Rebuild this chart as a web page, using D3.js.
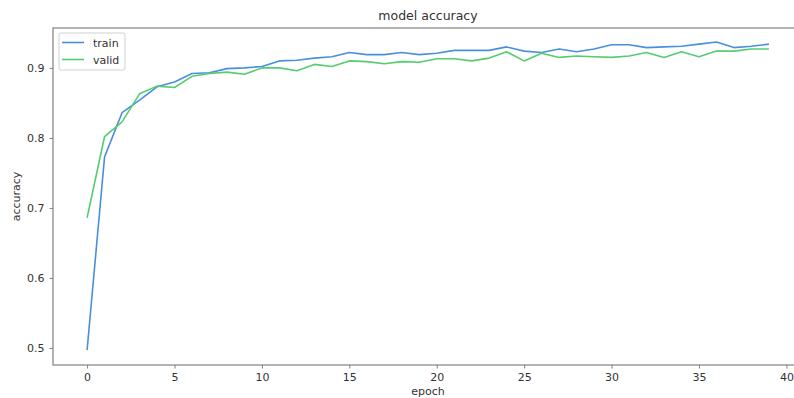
<!DOCTYPE html>
<html>
<head>
<meta charset="utf-8">
<script src="https://cdn.jsdelivr.net/npm/d3@7"></script>
<style>
  html, body { margin: 0; padding: 0; background: #fff; }
  svg { display: block; font-family: "DejaVu Sans", sans-serif; }
</style>
</head>
<body>
<svg id="chart" width="794" height="398"></svg>
<script>
const epochs = d3.range(0, 40);
const train = [0.497, 0.773, 0.836, 0.854, 0.873, 0.880, 0.892, 0.893, 0.899, 0.900,
               0.902, 0.910, 0.911, 0.914, 0.916, 0.922, 0.919, 0.919, 0.922, 0.919,
               0.921, 0.925, 0.925, 0.925, 0.930, 0.924, 0.922, 0.927, 0.923, 0.927,
               0.933, 0.933, 0.929, 0.930, 0.931, 0.934, 0.937, 0.929, 0.931, 0.934];
const valid = [0.686, 0.802, 0.823, 0.863, 0.874, 0.872, 0.888, 0.892, 0.894, 0.891,
               0.900, 0.900, 0.896, 0.905, 0.902, 0.910, 0.909, 0.906, 0.909, 0.908,
               0.913, 0.913, 0.910, 0.914, 0.923, 0.910, 0.921, 0.915, 0.917, 0.916,
               0.915, 0.917, 0.922, 0.915, 0.923, 0.916, 0.924, 0.924, 0.927, 0.927];
const xTicks = [0, 5, 10, 15, 20, 25, 30, 35, 40];
const yTicks = [0.5, 0.6, 0.7, 0.8, 0.9];
const seriesNames = ["train", "valid"];
const colors = ["#4a8fdd", "#55cc70"];

(function () {
const svg = d3.select("#chart");
const pL = 53, pT = 28, pR = 803, pB = 365;

const x = d3.scaleLinear().domain([-1.95, 40.95]).range([pL, pR]);
const y = d3.scaleLinear().domain([0.4757, 0.957]).range([pB, pT]);

const textColor = "#333";
const spineColor = "#808080";

svg.append("defs").append("clipPath").attr("id", "clip")
  .append("rect").attr("x", pL).attr("y", pT).attr("width", pR - pL).attr("height", pB - pT);

const series = [train, valid];
const line = d3.line().x((d, i) => x(epochs[i])).y(d => y(d));
series.forEach((s, k) => {
  svg.append("path").datum(s)
    .attr("clip-path", "url(#clip)")
    .attr("fill", "none")
    .attr("stroke", colors[k])
    .attr("stroke-width", 1.6)
    .attr("stroke-linejoin", "round")
    .attr("d", line);
});

const xAxis = d3.axisBottom(x).tickValues(xTicks).tickSize(3.5).tickPadding(5).tickFormat(d3.format("d"));
const gx = svg.append("g").attr("transform", `translate(0,${pB})`).call(xAxis);
const yAxis = d3.axisLeft(y).tickValues(yTicks).tickSize(3.5).tickPadding(5).tickFormat(d3.format(".1f"));
const gy = svg.append("g").attr("transform", `translate(${pL},0)`).call(yAxis);
[gx, gy].forEach(g => {
  g.select(".domain").remove();
  g.selectAll(".tick line").attr("stroke", spineColor).attr("stroke-width", 1);
  g.selectAll(".tick text").attr("fill", textColor).style("font-size", "11px").style("font-family", "DejaVu Sans");
});

svg.append("rect").attr("x", pL).attr("y", pT).attr("width", pR - pL).attr("height", pB - pT)
  .attr("fill", "none").attr("stroke", spineColor).attr("stroke-width", 1.2);

svg.append("text").attr("x", (pL + pR) / 2).attr("y", 20).attr("text-anchor", "middle")
  .attr("fill", textColor).style("font-size", "12.5px").text("model accuracy");
svg.append("text").attr("x", (pL + pR) / 2).attr("y", 395).attr("text-anchor", "middle")
  .attr("fill", textColor).style("font-size", "11px").text("epoch");
svg.append("text").attr("transform", `translate(20,${(pT + pB) / 2}) rotate(-90)`).attr("text-anchor", "middle")
  .attr("fill", textColor).style("font-size", "11px").text("accuracy");

const lg = svg.append("g").attr("transform", `translate(${pL + 6},${pT + 5})`);
lg.append("rect").attr("x", 0).attr("y", 0).attr("width", 66).attr("height", 37).attr("rx", 2)
  .attr("fill", "#fff").attr("fill-opacity", 0.8).attr("stroke", "#d0d0d0").attr("stroke-width", 1);
seriesNames.forEach((n, k) => {
  const yy = 9.5 + k * 17;
  lg.append("line").attr("x1", 3).attr("x2", 25).attr("y1", yy).attr("y2", yy)
    .attr("stroke", colors[k]).attr("stroke-width", 1.6);
  lg.append("text").attr("x", 34).attr("y", yy + 4).attr("fill", textColor)
    .style("font-size", "11px").text(n);
});
})();
</script>
</body>
</html>
